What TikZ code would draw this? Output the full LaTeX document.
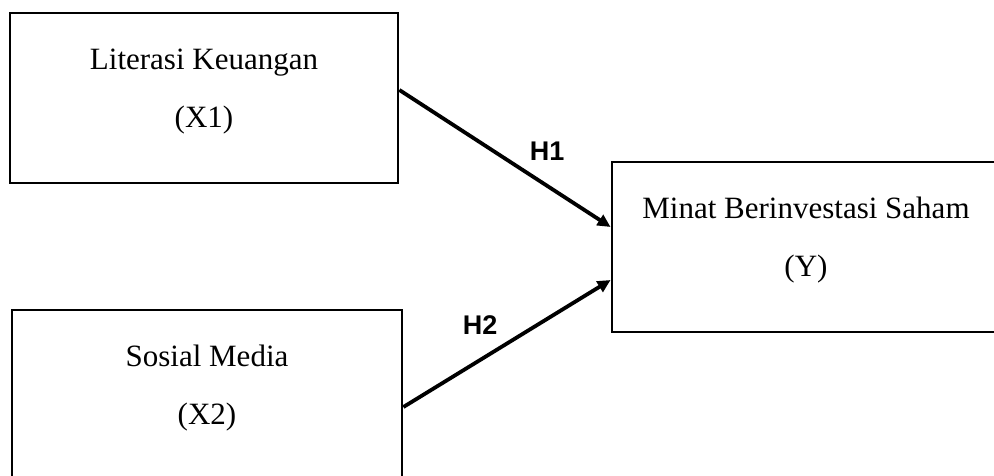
\documentclass[tikz,border=0pt]{standalone}
\usepackage{fontspec}
\setmainfont{Liberation Serif}
\newfontfamily\hypfont{Liberation Sans}
\usetikzlibrary{arrows.meta, positioning, calc}
\tikzset{
  every picture/.style={x=1pt, y=-1pt, line width=2.8pt},
  box/.style={draw=black, fill=white, align=center, inner sep=0pt, minimum width=390pt, minimum height=170pt,
              text depth=20pt, font=\fontsize{31}{58}\selectfont},
  arrow/.style={-{Triangle[length=13pt, width=12pt]}, draw=black, line width=3.8pt},
  hyp/.style={font=\hypfont\bfseries\fontsize{27}{30}\selectfont},
}

\begin{document}
\begin{tikzpicture}
  \useasboundingbox (0,0) rectangle (994,475);
  \clip (0,0) rectangle (994,475);
  \node[box, minimum width=388pt] (x1) at (204,98) {Literasi Keuangan\\(X1)};
  \node[box] (x2) at (207,395) {Sosial Media\\(X2)};
  \node[box, minimum width=388pt] (y) at (806,247) {Minat Berinvestasi Saham\\(Y)};
  \draw[arrow] ([yshift=8pt]x1.east) -- node[hyp, pos=0.7, above=20pt] (h1) {H1} ([yshift=20pt]y.west);
  \draw[arrow] ([yshift=-12pt]x2.east) -- node[hyp, pos=0.37, above=20pt] (h2) {H2} ([yshift=-33pt]y.west);
\end{tikzpicture}
\end{document}
